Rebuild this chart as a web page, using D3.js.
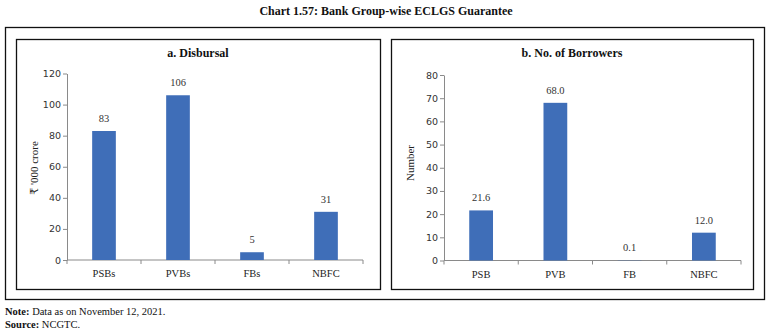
<!DOCTYPE html>
<html>
<head>
<meta charset="utf-8">
<script src="https://cdn.jsdelivr.net/npm/d3@7"></script>
<style>
  html, body { margin: 0; padding: 0; background: #fff; }
  svg { display: block; }
</style>
</head>
<body>
<svg id="chart" width="772" height="332"></svg>
<script>
// Bank group-wise ECLGS guarantee data
const disbursalCategories = ["PSBs", "PVBs", "FBs", "NBFC"];
const disbursalValues = [83, 106, 5, 31];
const disbursalTicks = [0, 20, 40, 60, 80, 100, 120];

const borrowerCategories = ["PSB", "PVB", "FB", "NBFC"];
const borrowerValues = [21.6, 68.0, 0.1, 12.0];
const borrowerTicks = [0, 10, 20, 30, 40, 50, 60, 70, 80];

const svg = d3.select("#chart");
const serif = "'Liberation Serif', 'DejaVu Serif', serif";
const sans = "'DejaVu Sans', sans-serif";
const barColor = "#3f6eb8";
const axisColor = "#8a8a8a";

// Main heading
svg.append("text")
  .attr("x", 386).attr("y", 15)
  .attr("text-anchor", "middle")
  .attr("font-family", serif).attr("font-weight", "bold").attr("font-size", 12)
  .attr("fill", "#111")
  .text("Chart 1.57: Bank Group-wise ECLGS Guarantee");

// Outer frame and the two panel frames
svg.append("rect").attr("x", 5.5).attr("y", 27.5).attr("width", 759).attr("height", 272)
  .attr("fill", "none").attr("stroke", "#111").attr("stroke-width", 1.3);

function panel(opts) {
  const g = svg.append("g");
  g.append("rect")
    .attr("x", opts.box[0] + 0.5).attr("y", opts.box[1] + 0.5)
    .attr("width", opts.box[2]).attr("height", opts.box[3])
    .attr("fill", "none").attr("stroke", "#111").attr("stroke-width", 1.3);

  g.append("text")
    .attr("x", opts.titleX).attr("y", 57)
    .attr("text-anchor", "middle")
    .attr("font-family", serif).attr("font-weight", "bold").attr("font-size", 12)
    .attr("fill", "#111")
    .text(opts.title);

  const x = d3.scaleBand().domain(opts.categories).range(opts.xRange).paddingInner(0.68).paddingOuter(0.34);
  const y = d3.scaleLinear().domain([0, opts.ticks[opts.ticks.length - 1]]).range(opts.yRange);

  // Y axis
  const yAxis = g.append("g")
    .attr("transform", `translate(${opts.xRange[0]},0)`)
    .call(d3.axisLeft(y).tickValues(opts.ticks).tickSize(4).tickSizeOuter(0).tickFormat(d3.format("d")));
  yAxis.select(".domain").attr("stroke", axisColor);
  yAxis.selectAll(".tick line").attr("stroke", axisColor);
  yAxis.selectAll(".tick text")
    .attr("font-family", sans).attr("font-size", 9.5).attr("fill", "#333").attr("x", -6);

  // X axis: ticks at band boundaries
  const xg = g.append("g").attr("transform", `translate(0,${opts.yRange[0]})`);
  xg.append("line")
    .attr("x1", opts.xRange[0]).attr("x2", opts.xRange[1])
    .attr("stroke", axisColor);
  const step = x.step();
  const bounds = d3.range(opts.categories.length + 1).map(i => opts.xRange[0] + i * step);
  xg.selectAll("line.tk").data(bounds).join("line").attr("class", "tk")
    .attr("x1", d => d).attr("x2", d => d).attr("y1", 0).attr("y2", 4)
    .attr("stroke", axisColor);
  xg.selectAll("text").data(opts.categories).join("text")
    .attr("x", d => x(d) + x.bandwidth() / 2).attr("y", 17)
    .attr("text-anchor", "middle")
    .attr("font-family", serif).attr("font-size", 10.5).attr("fill", "#222")
    .text(d => d);

  // Bars
  const data = opts.categories.map((c, i) => ({ c, v: opts.values[i] }));
  g.selectAll("rect.bar").data(data).join("rect").attr("class", "bar")
    .attr("x", d => x(d.c)).attr("width", x.bandwidth())
    .attr("y", d => y(d.v)).attr("height", d => y(0) - y(d.v))
    .attr("fill", barColor);

  // Value labels
  g.selectAll("text.val").data(data).join("text").attr("class", "val")
    .attr("x", d => x(d.c) + x.bandwidth() / 2).attr("y", d => y(d.v) - 9)
    .attr("text-anchor", "middle")
    .attr("font-family", serif).attr("font-size", 10.5).attr("fill", "#333")
    .text(d => opts.fmt(d.v));

  // Y axis label
  g.append("text")
    .attr("transform", `translate(${opts.yLabelX},${opts.yLabelY}) rotate(-90)`)
    .attr("text-anchor", "middle")
    .attr("font-family", serif).attr("font-size", 11).attr("fill", "#222")
    .text(opts.yLabel);
}

panel({
  box: [16, 39, 364, 250],
  title: "a. Disbursal", titleX: 198,
  categories: disbursalCategories, values: disbursalValues, ticks: disbursalTicks,
  xRange: [67, 363], yRange: [260, 73.5],
  fmt: d3.format("d"),
  yLabel: "₹ '000 crore", yLabelX: 38, yLabelY: 168
});

panel({
  box: [391, 39, 362, 250],
  title: "b. No. of Borrowers", titleX: 572,
  categories: borrowerCategories, values: borrowerValues, ticks: borrowerTicks,
  xRange: [444, 741], yRange: [260.5, 75],
  fmt: d3.format(".1f"),
  yLabel: "Number", yLabelX: 414, yLabelY: 163
});

// Footnotes
const note = svg.append("text").attr("x", 5).attr("y", 315)
  .attr("font-family", serif).attr("font-size", 10.5).attr("fill", "#111");
note.append("tspan").attr("font-weight", "bold").text("Note:");
note.append("tspan").text(" Data as on November 12, 2021.");

const src = svg.append("text").attr("x", 5).attr("y", 328)
  .attr("font-family", serif).attr("font-size", 10.5).attr("fill", "#111");
src.append("tspan").attr("font-weight", "bold").text("Source:");
src.append("tspan").text(" NCGTC.");
</script>
</body>
</html>
